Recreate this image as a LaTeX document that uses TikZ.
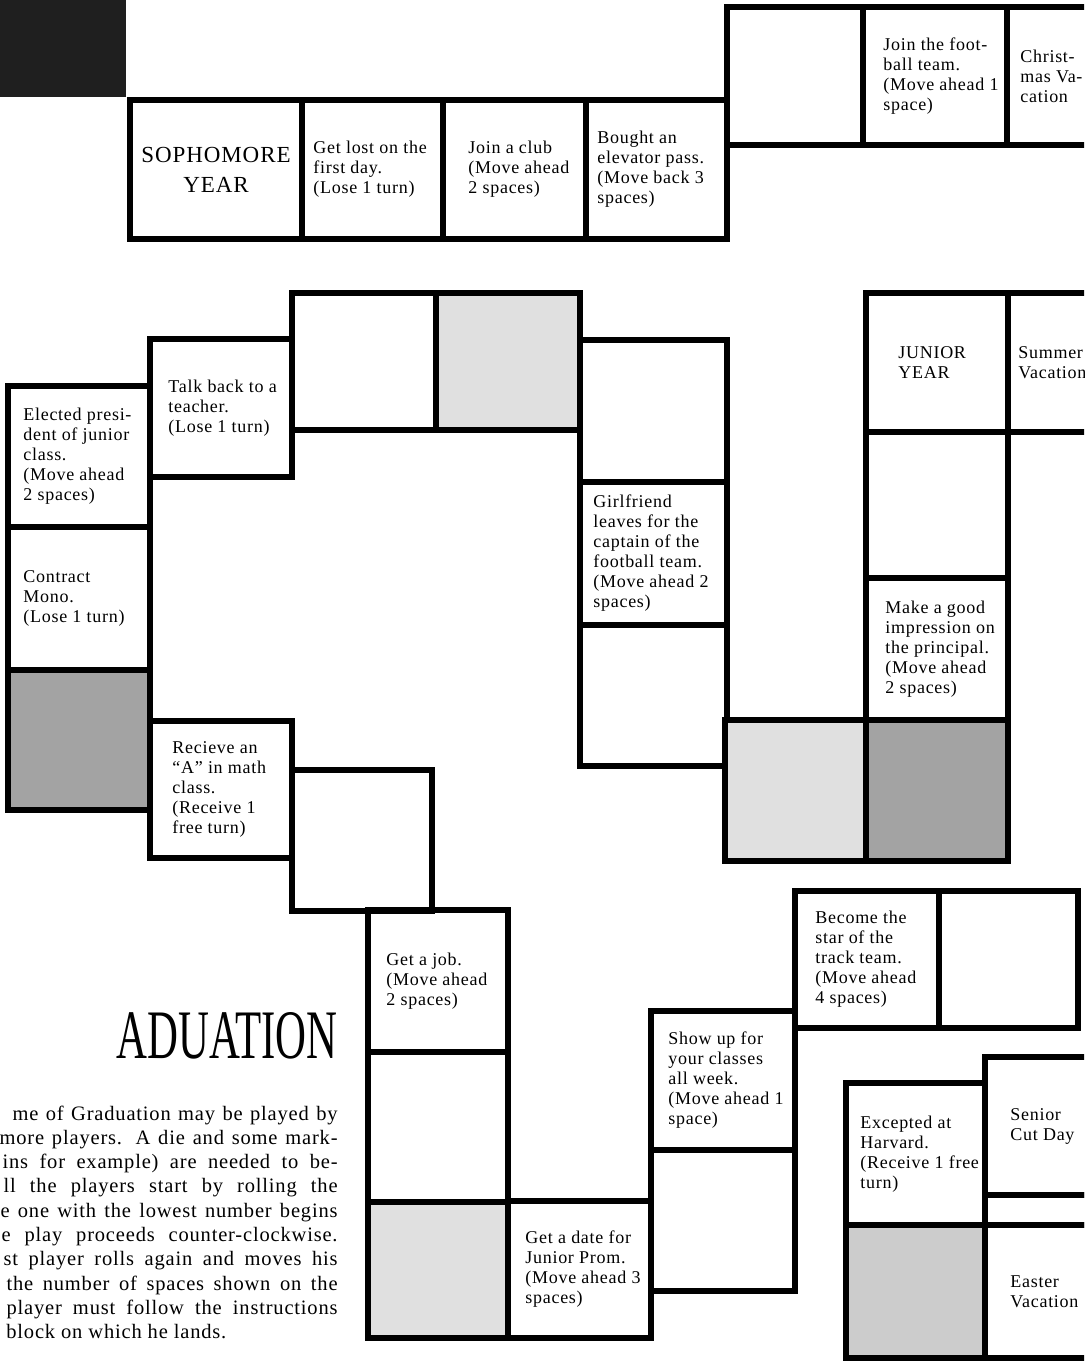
\documentclass[tikz,border=0pt]{standalone}
\usepackage{fontspec}
\setmainfont{Liberation Serif}
\newfontfamily\boardfont{Liberation Serif}[LetterSpace=4]
\usetikzlibrary{positioning}

\begin{document}
\begin{tikzpicture}[
    x=0.5pt, y=-0.5pt,
    cell/.style 2 args={draw, line width=3pt, anchor=north west, inner sep=0pt, outer sep=0pt,
      minimum width=#1*0.5pt, minimum height=#2*0.5pt},
    lightcell/.style={fill=black!12},
    midcell/.style={fill=black!20},
    darkcell/.style={fill=black!36},
    celltext/.style={font=\boardfont\fontsize{9}{10}\selectfont, align=left, inner sep=0pt},
    heading/.style={font=\boardfont\fontsize{11.5}{15}\selectfont, align=center, inner sep=0pt},
    rules/.style={font=\boardfont\fontsize{10.25}{12.25}\selectfont, inner sep=0pt}
  ]
    \useasboundingbox (0,0) rectangle (1084,1361);
    \clip (0,0) rectangle (1084,1361);

    % top corner of the photo
    \node[cell={126}{97}, draw=none, fill=black!88] (corner) at (0,0) {};

    % sophomore row
    \node[cell={172}{139}] (soph) at (130,100) {};
    \node[cell={141}{139}] (lost) at (302,100) {};
    \node[cell={143}{139}] (club) at (443,100) {};
    \node[cell={141}{139}] (elevator) at (586,100) {};
    \node[cell={136}{138}] (upempty) at (727,7) {};
    \node[cell={144}{138}] (football) at (863,7) {};
    \node[cell={150}{138}] (christmas) at (1007,7) {};

    % left loop
    \node[cell={142}{141}] (elected) at (8,386) {};
    \node[cell={142}{143}] (mono) at (8,527) {};
    \node[cell={142}{140}, darkcell] (greyA) at (8,670) {};
    \node[cell={142}{138}] (talk) at (150,339) {};
    \node[cell={144}{137}] (emptyA) at (292,293) {};
    \node[cell={144}{137}, lightcell] (greyB) at (436,293) {};
    \node[cell={147}{142}] (emptyB) at (580,340) {};
    \node[cell={147}{143}] (girlfriend) at (580,482) {};
    \node[cell={147}{141}] (emptyC) at (580,625) {};
    \node[cell={142}{137}] (mathA) at (150,721) {};
    \node[cell={140}{141}] (emptyD) at (292,770) {};

    % junior column
    \node[cell={142}{139}] (junior) at (866,293) {};
    \node[cell={150}{139}] (summer) at (1008,293) {};
    \node[cell={142}{146}] (emptyE) at (866,432) {};
    \node[cell={142}{142}] (principal) at (866,578) {};
    \node[cell={141}{141}, lightcell] (greyC) at (725,720) {};
    \node[cell={142}{141}, darkcell] (greyD) at (866,720) {};

    % bottom steps
    \node[cell={140}{142}] (job) at (368,910) {};
    \node[cell={140}{150}] (emptyF) at (368,1052) {};
    \node[cell={140}{136}, lightcell] (greyE) at (368,1202) {};
    \node[cell={143}{137}] (prom) at (508,1201) {};
    \node[cell={144}{139}] (classes) at (651,1011) {};
    \node[cell={144}{141}] (emptyG) at (651,1150) {};
    \node[cell={144}{137}] (track) at (795,891) {};
    \node[cell={139}{137}] (emptyH) at (939,891) {};
    \node[cell={139}{142}] (harvard) at (846,1083) {};
    \node[cell={139}{133}, midcell] (greyF) at (846,1225) {};
    \node[cell={150}{138}] (cutday) at (985,1057) {};
    \node[cell={150}{30}] (thin) at (985,1195) {};
    \node[cell={150}{133}] (easter) at (985,1225) {};

    % texts of the squares
    \node[heading] at (soph) {SOPHOMORE\\YEAR};
    \node[celltext, right=5.5pt of lost.west] {Get lost on the\\first day.\\(Lose 1 turn)};
    \node[celltext, right=12.5pt of club.west] {Join a club\\(Move ahead\\2 spaces)};
    \node[celltext, right=5.5pt of elevator.west] {Bought an\\elevator pass.\\(Move back 3\\spaces)};
    \node[celltext, right=10pt of football.west] {Join the foot-\\ball team.\\(Move ahead 1\\space)};
    \node[celltext, right=6.5pt of christmas.west] {Christ-\\mas Va-\\cation};
    \node[celltext, right=9pt of talk.west] {Talk back to a\\teacher.\\(Lose 1 turn)};
    \node[celltext, right=7.5pt of elected.west] {Elected presi-\\dent of junior\\class.\\(Move ahead\\2 spaces)};
    \node[celltext, right=7.5pt of mono.west] {Contract\\Mono.\\(Lose 1 turn)};
    \node[celltext, right=11pt of mathA.west] {Recieve an\\“A” in math\\class.\\(Receive 1\\free turn)};
    \node[celltext, right=6.5pt of girlfriend.west] {Girlfriend\\leaves for the\\captain of the\\football team.\\(Move ahead 2\\spaces)};
    \node[celltext, right=16pt of junior.west] {JUNIOR\\YEAR};
    \node[celltext, right=5pt of summer.west] {Summer\\Vacation};
    \node[celltext, right=9.5pt of principal.west] {Make a good\\impression on\\the principal.\\(Move ahead\\2 spaces)};
    \node[celltext, right=9pt of job.west] {Get a job.\\(Move ahead\\2 spaces)};
    \node[celltext, right=8.5pt of prom.west] {Get a date for\\Junior Prom.\\(Move ahead 3\\spaces)};
    \node[celltext, right=8.5pt of classes.west] {Show up for\\your classes\\all week.\\(Move ahead 1\\space)};
    \node[celltext, right=10pt of track.west] {Become the\\star of the\\track team.\\(Move ahead\\4 spaces)};
    \node[celltext, right=7pt of harvard.west] {Excepted at\\Harvard.\\(Receive 1 free\\turn)};
    \node[celltext, right=12.5pt of cutday.west] {Senior\\Cut Day};
    \node[celltext, right=12.5pt of easter.west] {Easter\\Vacation};

    % title and rules
    \node[inner sep=0pt, anchor=south east] (title) at (338,1060) {\resizebox{110.5pt}{23pt}{ADUATION}};
    \foreach \line/\from [count=\i from 0] in {me of Graduation may be played by/13,
        more players. A die and some mark-/0, ins for example) are needed to be-/3,
        ll the players start by rolling the/4, e one with the lowest number begins/1,
        e play proceeds counter-clockwise./2, st player rolls again and moves his/4,
        the number of spaces shown on the/7, player must follow the instructions/7} {
      \pgfmathsetmacro\rulewd{(338-\from)*0.5}
      \node[rules, anchor=base east] (rule\i) at (338,{1120+24.3*\i}) {\makebox[\rulewd pt][s]{\line}};
    }
    \node[rules, anchor=base west] (rule9) at (6,{1120+24.3*9}) {block on which he lands.};
  \end{tikzpicture}
\end{document}
